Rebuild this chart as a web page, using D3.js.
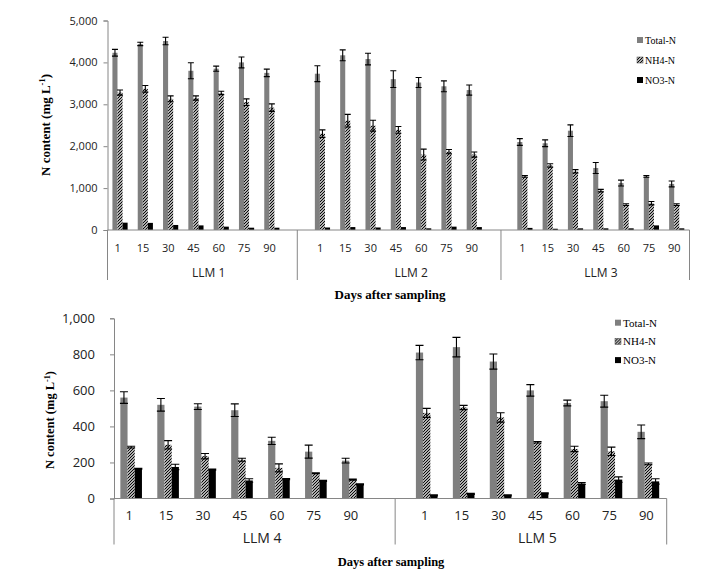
<!DOCTYPE html>
<html lang="en">
<head>
  <meta charset="UTF-8">
  <title>N content by days after sampling</title>
  <script src="https://d3js.org/d3.v7.min.js"></script>
  <style>
    body { margin: 0; background: #fff; }
    svg { display: block; }
    .tick-num { font-family: 'Open Sans', sans-serif; fill: #222; }
    .serif { font-family: 'Liberation Serif', 'Times New Roman', serif; fill: #000; }
  </style>
</head>
<body>
  <svg id="chart" width="726" height="578"></svg>

  <script>
    // ---- data ----
    const days = ["1", "15", "30", "45", "60", "75", "90"];
    const series = ["Total-N", "NH4-N", "NO3-N"];
    const topGroups = ["LLM 1", "LLM 2", "LLM 3"];
    const bottomGroups = ["LLM 4", "LLM 5"];
    const topTicks = [0, 1000, 2000, 3000, 4000, 5000];
    const bottomTicks = [0, 200, 400, 600, 800, 1000];

    const totalTop = [
      [4230, 4440, 4510, 3800, 3850, 4000, 3750],
      [3730, 4170, 4080, 3600, 3520, 3430, 3340],
      [2100, 2070, 2370, 1480, 1120, 1280, 1100]
    ];
    const totalTopErr = [
      [80, 40, 90, 190, 60, 130, 90],
      [190, 130, 140, 200, 120, 130, 120],
      [80, 80, 140, 130, 70, 20, 70]
    ];
    const nh4Top = [
      [3280, 3370, 3130, 3150, 3270, 3050, 2920],
      [2300, 2610, 2490, 2390, 1800, 1870, 1800],
      [1280, 1540, 1400, 940, 605, 640, 605]
    ];
    const nh4TopErr = [
      [60, 80, 70, 50, 40, 80, 90],
      [90, 150, 130, 80, 130, 50, 60],
      [20, 40, 40, 30, 20, 40, 20]
    ];
    const no3Top = [
      [175, 170, 120, 110, 80, 55, 55],
      [60, 70, 60, 70, 40, 80, 70],
      [50, 30, 40, 40, 40, 110, 40]
    ];
    const no3TopErr = [
      [0, 0, 0, 0, 0, 0, 0],
      [0, 0, 0, 0, 0, 0, 0],
      [0, 0, 0, 0, 0, 0, 0]
    ];

    const totalBottom = [
      [560, 520, 510, 490, 320, 260, 210],
      [810, 840, 760, 600, 530, 540, 370]
    ];
    const totalBottomErr = [
      [32, 35, 16, 35, 20, 36, 13],
      [40, 54, 42, 32, 16, 33, 38]
    ];
    const nh4Bottom = [
      [285, 298, 235, 215, 170, 140, 105],
      [475, 505, 450, 312, 275, 262, 192]
    ];
    const nh4BottomErr = [
      [5, 23, 15, 8, 22, 3, 3],
      [25, 12, 26, 4, 15, 23, 5]
    ];
    const no3Bottom = [
      [165, 175, 160, 100, 108, 98, 78],
      [17, 26, 17, 28, 83, 105, 95]
    ];
    const no3BottomErr = [
      [3, 15, 3, 10, 3, 3, 3],
      [3, 3, 3, 3, 5, 15, 15]
    ];

    const svg = d3.select("#chart");
    const fills = ["#7f7f7f", "url(#hatch)", "#000"];

    // hatch pattern for NH4-N
    const pat = svg.append("defs").append("pattern")
      .attr("id", "hatch")
      .attr("patternUnits", "userSpaceOnUse")
      .attr("width", 3).attr("height", 3);
    pat.append("rect").attr("width", 3).attr("height", 3).attr("fill", "#fff");
    pat.append("path").attr("d", "M-1,1 l2,-2 M0,3 l3,-3 M2,4 l2,-2")
      .attr("stroke", "#000").attr("stroke-width", 1.2);

    function drawPanel(cfg) {
      const g = svg.append("g");
      const x = d3.scaleLinear().domain(cfg.slotDomain).range(cfg.xRange);
      const y = d3.scaleLinear().domain([0, cfg.yMax]).range(cfg.yRange);
      const step = x(1) - x(0);
      const barW = step * cfg.barFrac;

      // flatten data to rows
      const rows = [];
      cfg.groups.forEach((grp, gi) => {
        days.forEach((day, di) => {
          const slot = gi * 8 + di;
          cfg.values.forEach((vals, si) => {
            rows.push({ slot, si, v: vals[gi][di], e: cfg.errors[si][gi][di] });
          });
        });
      });

      const bx = d => x(d.slot) + cfg.shift - 1.5 * barW + d.si * barW;

      g.selectAll("rect.bar").data(rows).enter().append("rect")
        .attr("class", "bar")
        .attr("x", bx)
        .attr("width", barW)
        .attr("y", d => y(d.v))
        .attr("height", d => y(0) - y(d.v))
        .attr("fill", d => fills[d.si]);

      // error bars
      const eb = rows.filter(d => d.e > 0);
      const cx = d => bx(d) + barW / 2;
      g.selectAll("path.err").data(eb).enter().append("path")
        .attr("class", "err")
        .attr("d", d => {
          const c = cx(d), t = y(d.v + d.e), b = y(d.v - d.e), h = cfg.cap / 2;
          return `M${c},${t}V${b}M${c - h},${t}H${c + h}M${c - h},${b}H${c + h}`;
        })
        .attr("stroke", "#000").attr("stroke-width", 1.1).attr("fill", "none");

      // y axis
      const yAxis = g.append("g")
        .attr("transform", `translate(${cfg.xRange[0]},0)`)
        .call(d3.axisLeft(y).tickValues(cfg.ticks).tickSize(4).tickPadding(cfg.tickPad)
          .tickFormat(d3.format(",")));
      yAxis.select(".domain").attr("stroke", "#868686");
      yAxis.selectAll(".tick line").attr("stroke", "#868686");
      yAxis.selectAll("text").attr("class", "tick-num")
        .style("font-size", cfg.numSize + "px");

      // x axis baseline
      g.append("line")
        .attr("x1", cfg.xRange[0]).attr("x2", cfg.xRange[1])
        .attr("y1", y(0)).attr("y2", y(0))
        .attr("stroke", "#868686");

      // group separators
      g.selectAll("line.sep").data(cfg.separators).enter().append("line")
        .attr("class", "sep")
        .attr("x1", d => x(d)).attr("x2", d => x(d))
        .attr("y1", y(0)).attr("y2", y(0) + cfg.sepLen)
        .attr("stroke", "#868686");

      // day labels
      const dayRows = [];
      cfg.groups.forEach((grp, gi) => days.forEach((day, di) => dayRows.push({ slot: gi * 8 + di, day })));
      g.selectAll("text.day").data(dayRows).enter().append("text")
        .attr("class", "tick-num")
        .attr("x", d => x(d.slot))
        .attr("y", cfg.dayY)
        .attr("text-anchor", "middle")
        .attr("dominant-baseline", "central")
        .style("font-size", cfg.numSize + "px")
        .text(d => d.day);

      // group labels
      g.selectAll("text.grp").data(cfg.groups).enter().append("text")
        .attr("class", "tick-num")
        .attr("x", (d, i) => x(cfg.groupSlots[i]))
        .attr("y", cfg.groupY)
        .attr("text-anchor", "middle")
        .attr("dominant-baseline", "central")
        .style("font-size", cfg.grpSize + "px")
        .text(d => d);

      // axis titles
      g.append("text").attr("class", "serif")
        .attr("x", cfg.xTitle[0]).attr("y", cfg.xTitle[1])
        .attr("text-anchor", "middle")
        .style("font-size", cfg.titleSize + "px").style("font-weight", "bold")
        .text("Days after sampling");

      const yt = g.append("text").attr("class", "serif")
        .attr("transform", `translate(${cfg.yTitle[0]},${cfg.yTitle[1]}) rotate(-90)`)
        .attr("text-anchor", "middle")
        .attr("dominant-baseline", "central")
        .style("font-size", cfg.titleSize + "px").style("font-weight", "bold");
      yt.append("tspan").text("N content (mg L");
      yt.append("tspan").attr("dy", "-0.4em").style("font-size", "0.65em").text("-1");
      yt.append("tspan").attr("dy", "0.26em").text(")");

      // legend
      const leg = g.append("g").attr("transform", `translate(${cfg.legend[0]},${cfg.legend[1]})`);
      series.forEach((s, i) => {
        const row = leg.append("g").attr("transform", `translate(0,${i * cfg.legendGap})`);
        row.append("rect").attr("x", 0).attr("y", -3).attr("width", 6).attr("height", 6)
          .attr("fill", fills[i]).attr("stroke", i === 1 ? "#444" : "none").attr("stroke-width", 0.5);
        row.append("text").attr("class", "serif")
          .attr("x", 8).attr("y", 0)
          .attr("dominant-baseline", "central")
          .style("font-size", cfg.legendSize + "px")
          .text(s);
      });
    }

    drawPanel({
      groups: topGroups,
      values: [totalTop, nh4Top, no3Top],
      errors: [totalTopErr, nh4TopErr, no3TopErr],
      yMax: 5000, ticks: topTicks,
      slotDomain: [-0.4, 22.6], xRange: [107.5, 689.5], yRange: [230, 20.5],
      barFrac: 0.2, shift: 2.4, cap: 6,
      separators: [-0.4, 7.1, 15.15, 22.6], sepLen: 50,
      dayY: 247.5, groupY: 272.5, groupSlots: [3.6, 11.6, 19.1],
      numSize: 11, grpSize: 12, tickPad: 6,
      xTitle: [390, 299], yTitle: [45, 125], titleSize: 13,
      legend: [637, 40], legendGap: 20, legendSize: 10
    });

    drawPanel({
      groups: bottomGroups,
      values: [totalBottom, nh4Bottom, no3Bottom],
      errors: [totalBottomErr, nh4BottomErr, no3BottomErr],
      yMax: 1000, ticks: bottomTicks,
      slotDomain: [-0.41, 14.55], xRange: [114, 666.7], yRange: [498.5, 318.3],
      barFrac: 0.195, shift: 2, cap: 8,
      separators: [-0.41, 7.2, 14.55], sepLen: 46,
      dayY: 514.5, groupY: 537.5, groupSlots: [3.6, 11.05],
      numSize: 13, grpSize: 14, tickPad: 15,
      xTitle: [391, 566], yTitle: [50, 420], titleSize: 12.5,
      legend: [615, 322.7], legendGap: 18.7, legendSize: 11
    });
  </script>
</body>
</html>
